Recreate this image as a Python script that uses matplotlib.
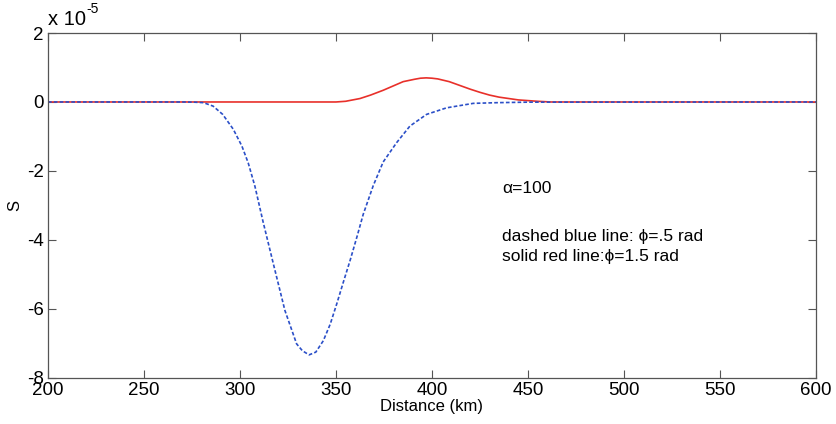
import matplotlib
matplotlib.use("Agg")
import matplotlib.pyplot as plt

plt.rcParams['font.family'] = ['Liberation Sans', 'DejaVu Sans']
plt.rcParams['axes.unicode_minus'] = False

# Data (S in units of 1e-5)
blue_x = [200, 270, 276, 281, 286, 291, 296.5, 301, 304.3, 307.8, 312, 317.4, 323.4, 329.5,
          332.5, 336, 339.5, 343.4, 347, 350.4, 354, 357.3, 361, 364.2, 369.4, 374.6, 381.6,
          388.5, 397.2, 407.6, 421.5, 434, 450, 600]
blue_y = [0, 0, -0.005, -0.02, -0.12, -0.36, -0.79, -1.28, -1.77, -2.45, -3.47, -4.70, -6.05,
          -7.02, -7.22, -7.34, -7.26, -6.93, -6.45, -5.86, -5.2, -4.61, -3.9, -3.26, -2.43,
          -1.74, -1.18, -0.70, -0.36, -0.17, -0.04, -0.02, -0.005, 0]
red_x = [200, 350, 355, 362.5, 368, 374.6, 380, 385, 391, 394, 397, 400, 403, 409, 415, 420,
         425, 430, 435, 445, 455, 462, 600]
red_y = [0, 0, 0.02, 0.1, 0.2, 0.34, 0.47, 0.59, 0.66, 0.69, 0.70, 0.69, 0.67, 0.59, 0.47,
         0.37, 0.28, 0.2, 0.14, 0.06, 0.02, 0, 0]

x_ticks = [200, 250, 300, 350, 400, 450, 500, 550, 600]
y_ticks = [-8, -6, -4, -2, 0, 2]

fig = plt.figure(figsize=(8.36, 4.24), dpi=100)
ax = fig.add_axes([0.0574, 0.1094, 0.9186, 0.8126])

ax.plot(red_x, red_y, color='#e8302a', lw=1.2, solid_joinstyle='round')
ax.plot(blue_x, blue_y, color='#2b4fc8', lw=1.2, dashes=(2.2, 1.3))

ax.set_xlim(200, 600)
ax.set_ylim(-8, 2)
ax.set_xticks(x_ticks)
ax.set_yticks(y_ticks)
ax.tick_params(direction='in', length=6, width=0.8, color='#555555',
               top=True, right=True, labelsize=13.5, pad=3)
for s in ax.spines.values():
    s.set_color('#555555')
    s.set_linewidth(0.9)

ax.set_xlabel('Distance (km)', fontsize=12, labelpad=0)
ax.set_ylabel('S', fontsize=12, labelpad=3)

ax.text(0.0, 1.012, 'x 10', transform=ax.transAxes, fontsize=14.5,
        ha='left', va='bottom')
ax.text(0.0505, 1.05, '-5', transform=ax.transAxes, fontsize=10,
        ha='left', va='bottom')

ax.text(436.5, -2.52, 'α=100', fontsize=12.5, va='center', ha='left')
ax.text(436.5, -3.91, 'dashed blue line: ϕ=.5 rad', fontsize=12.5, va='center', ha='left')
ax.text(436.5, -4.49, 'solid red line:ϕ=1.5 rad', fontsize=12.5, va='center', ha='left')

fig.savefig('out.png', dpi=100)
